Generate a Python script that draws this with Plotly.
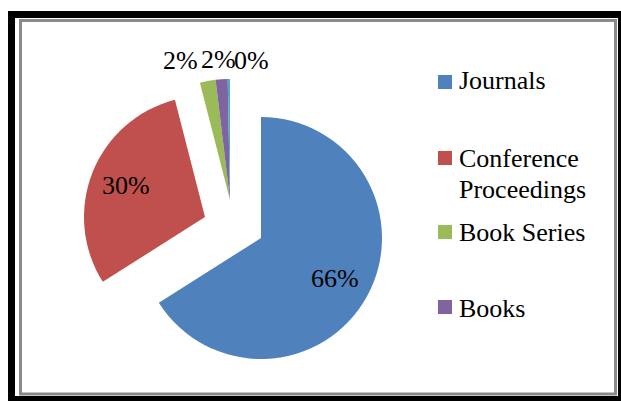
import math
import plotly.graph_objects as go

# ---- data ----
categories = ["Journals", "Conference Proceedings", "Book Series", "Books", "Trade Publications"]
shares = [66.0, 30.0, 2.1, 1.6, 0.3]
colors = ["#4F81BD", "#C0504D", "#9BBB59", "#8064A2", "#4BACC6"]
legend_lines = [["Journals"], ["Conference", "Proceedings"], ["Book Series"], ["Books"]]

# ---- layout constants (pixels) ----
W, H = 621, 401
R = 121
FONT = "Liberation Serif"

# exploded pie: slices that share one vertex
slice_group = [0, 1, 2, 2, 2]
group_center = {0: (261, 238), 1: (205, 217), 2: (230, 200)}
# label placement: inside labels along the slice bisector, small ones in a row above
inside_k = 0.70
outside_label_xy = {2: (180, 61), 3: (218, 59), 4: (251, 61)}


def px_x(x):
    return x / W


def px_y(y):
    return 1 - y / H


def domain(cx, cy, r):
    return dict(x=[px_x(cx - r), px_x(cx + r)], y=[px_y(cy + r), px_y(cy - r)])


fig = go.Figure()
for g, (cx, cy) in group_center.items():
    cols = [c if slice_group[i] == g else "rgba(0,0,0,0)" for i, c in enumerate(colors)]
    fig.add_trace(go.Pie(
        labels=categories,
        values=shares,
        sort=False,
        direction="clockwise",
        rotation=0,
        marker=dict(colors=cols, line=dict(width=0)),
        textinfo="none",
        domain=domain(cx, cy, R),
        showlegend=False,
        hoverinfo="label+percent",
    ))

# percentage labels
total = sum(shares)
annotations = []
cum = 0.0
for i, v in enumerate(shares):
    frac = v / total
    mid = (cum + frac / 2) * 2 * math.pi
    cum += frac
    txt = f"{round(frac * 100)}%"
    if i in outside_label_xy:
        lx, ly = outside_label_xy[i]
    else:
        cx, cy = group_center[slice_group[i]]
        lx = cx + inside_k * R * math.sin(mid)
        ly = cy - inside_k * R * math.cos(mid)
    annotations.append(dict(text=txt, xref="paper", yref="paper",
                            x=px_x(lx), y=px_y(ly), xanchor="center", yanchor="middle",
                            showarrow=False,
                            font=dict(family=FONT, size=26, color="black")))

shapes = [
    # outer thick black frame
    dict(type="rect", xref="paper", yref="paper", layer="below",
         x0=px_x(8), x1=px_x(621), y0=px_y(401), y1=px_y(11),
         fillcolor="black", line=dict(width=0)),
    dict(type="rect", xref="paper", yref="paper", layer="below",
         x0=px_x(15), x1=px_x(618), y0=px_y(396), y1=px_y(18),
         fillcolor="white", line=dict(width=0)),
    # inner gray border
    dict(type="rect", xref="paper", yref="paper", layer="below",
         x0=px_x(20.5), x1=px_x(615.5), y0=px_y(394), y1=px_y(20.5),
         fillcolor="rgba(0,0,0,0)", line=dict(color="#8a8a8a", width=3)),
]

# legend (first four categories, as in the original)
sq_centers = [82, 158, 232, 307]
text_centers = [[81], [158, 189], [232.5], [308.5]]
for i, lines in enumerate(legend_lines):
    yc = sq_centers[i]
    shapes.append(dict(type="rect", xref="paper", yref="paper",
                       x0=px_x(438), x1=px_x(452), y0=px_y(yc + 7), y1=px_y(yc - 7),
                       fillcolor=colors[i], line=dict(width=0)))
    for line, ty in zip(lines, text_centers[i]):
        annotations.append(dict(text=line, xref="paper", yref="paper",
                                x=px_x(457), y=px_y(ty), xanchor="left", yanchor="middle",
                                showarrow=False,
                                font=dict(family=FONT, size=26, color="black")))

fig.update_layout(
    width=W, height=H,
    margin=dict(l=0, r=0, t=0, b=0, autoexpand=False),
    paper_bgcolor="white",
    plot_bgcolor="white",
    shapes=shapes,
    annotations=annotations,
)

fig.write_html("out.html", config={"displayModeBar": False},
               post_script="document.body.style.margin='0px';")
